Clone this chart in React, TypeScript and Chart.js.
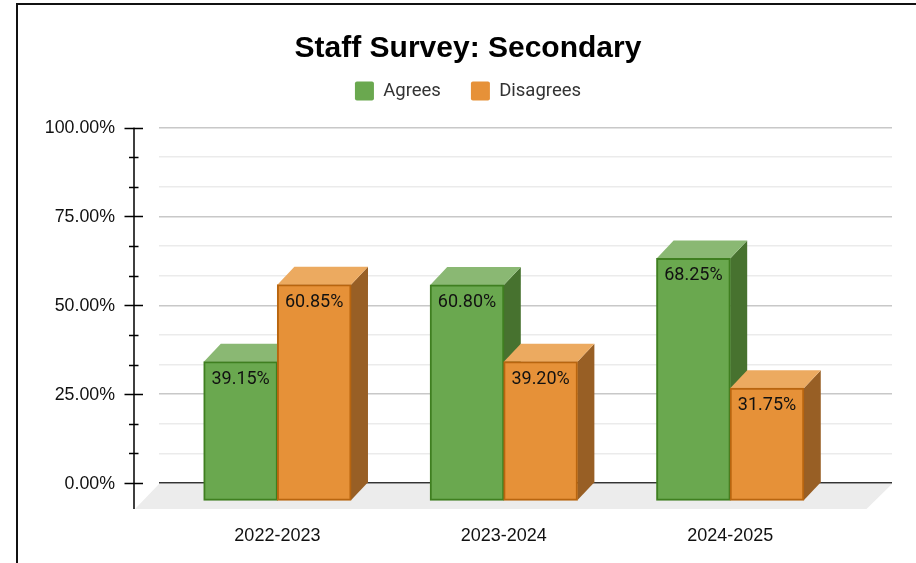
import React, { useEffect, useRef } from "react";
import { Chart, registerables } from "chart.js";

Chart.register(...registerables);

const categories = ["2022-2023", "2023-2024", "2024-2025"];
const agrees = [39.15, 60.8, 68.25];
const disagrees = [60.85, 39.2, 31.75];
const majorTicks = [0, 25, 50, 75, 100];
const minorTicks = [8.33, 16.67, 33.33, 41.67, 58.33, 66.67, 83.33, 91.67];

const DEPTH_X = 17;
const DEPTH_Y = 18;
const faces: Record<number, { side: string; top: string }> = {
  0: { side: "#47722f", top: "#8ab873" },
  1: { side: "#985f25", top: "#ecaa60" },
};

const threeD = {
  id: "threeD",
  beforeLayout(chart: any) {
    const legend = chart.legend;
    if (legend && !legend.__tall) {
      legend.__tall = true;
      const fit = legend.fit;
      legend.fit = function () {
        fit.call(this);
        this.height += 17.1;
      };
    }
  },
  afterLayout(chart: any) {
    const x = chart.scales.x;
    x.left = 164.2;
    x.right = 843.4;
    x.width = 679.2;
    x.configure();
  },
  beforeDatasetsDraw(chart: any) {
    const { ctx, chartArea: a, scales } = chart;
    const y0 = scales.y.getPixelForValue(0);
    ctx.save();
    // floor
    ctx.fillStyle = "#ececec";
    ctx.beginPath();
    ctx.moveTo(a.left, y0 + 1);
    ctx.lineTo(a.right, y0 + 1);
    ctx.lineTo(a.right - 25.5, y0 + 26);
    ctx.lineTo(a.left - 24, y0 + 26);
    ctx.closePath();
    ctx.fill();
    // axis line and its tick marks
    ctx.strokeStyle = "#000";
    ctx.lineWidth = 1.5;
    ctx.beginPath();
    ctx.moveTo(134, scales.y.getPixelForValue(100));
    ctx.lineTo(134, y0 + 26);
    for (const v of majorTicks) {
      const p = Math.round(scales.y.getPixelForValue(v)) + 0.5;
      ctx.moveTo(124.5, p);
      ctx.lineTo(143, p);
    }
    for (const v of minorTicks) {
      const p = Math.round(scales.y.getPixelForValue(v)) + 0.5;
      ctx.moveTo(129, p);
      ctx.lineTo(138.5, p);
    }
    ctx.stroke();
    // bars, in dataset order so the second series sits in front
    chart.data.datasets.forEach((ds: any, i: number) => {
      const meta = chart.getDatasetMeta(i);
      meta.data.forEach((el: any) => {
        const { x, y, width, base } = el.getProps(["x", "y", "width", "base"], true);
        const l = x - width / 2;
        const r = x + width / 2;
        ctx.fillStyle = faces[i].side;
        ctx.beginPath();
        ctx.moveTo(r, y + DEPTH_Y);
        ctx.lineTo(r + DEPTH_X, y);
        ctx.lineTo(r + DEPTH_X, base);
        ctx.lineTo(r, base + DEPTH_Y);
        ctx.closePath();
        ctx.fill();
        ctx.fillStyle = faces[i].top;
        ctx.beginPath();
        ctx.moveTo(l, y + DEPTH_Y);
        ctx.lineTo(l + DEPTH_X, y);
        ctx.lineTo(r + DEPTH_X, y);
        ctx.lineTo(r, y + DEPTH_Y);
        ctx.closePath();
        ctx.fill();
      });
      ctx.save();
      ctx.translate(0, DEPTH_Y);
      meta.controller.draw();
      ctx.restore();
    });
    // value labels
    ctx.fillStyle = "#111";
    ctx.font = '18px Roboto';
    ctx.textAlign = "center";
    ctx.textBaseline = "middle";
    chart.data.datasets.forEach((ds: any, i: number) => {
      chart.getDatasetMeta(i).data.forEach((el: any, j: number) => {
        const { x, y } = el.getProps(["x", "y"], true);
        ctx.fillText(ds.data[j].toFixed(2) + "%", x, y + DEPTH_Y + 17.5);
      });
    });
    ctx.restore();
    return false;
  },
};

export default function App() {
  const ref = useRef<HTMLCanvasElement>(null);
  useEffect(() => {
    const chart = new Chart(ref.current as HTMLCanvasElement, {
      type: "bar",
      data: {
        labels: categories,
        datasets: [
          {
            label: "Agrees",
            data: agrees,
            backgroundColor: "#6aa84f",
            borderColor: "#3f7f20",
            borderWidth: 2,
            borderSkipped: false,
            inflateAmount: 0.5,
            categoryPercentage: 0.65,
            barPercentage: 1,
          },
          {
            label: "Disagrees",
            data: disagrees,
            backgroundColor: "#e69138",
            borderColor: "#b8650f",
            borderWidth: 2,
            borderSkipped: false,
            inflateAmount: 0.5,
            categoryPercentage: 0.65,
            barPercentage: 1,
          },
        ],
      },
      options: {
        responsive: false,
        animation: false,
        layout: { padding: { left: 44, right: 24, top: 0, bottom: 0 } },
        plugins: {
          tooltip: { enabled: false },
          title: {
            display: true,
            text: "Staff Survey: Secondary",
            color: "#000",
            font: { family: '"Liberation Sans"', size: 30, weight: "bold" },
            padding: { top: 31, bottom: -15.5 },
          },
          legend: {
            position: "top",
            labels: {
              boxWidth: 19,
              boxHeight: 19,
              padding: 30,
              useBorderRadius: true,
              borderRadius: 2,
              color: "#333",
              font: { family: "Roboto", size: 18.5 },
              generateLabels: (c: any) =>
                Chart.defaults.plugins.legend.labels.generateLabels(c).map((item: any) => ({ ...item, lineWidth: 0 })),
            },
          },
        },
        scales: {
          x: {
            grid: { display: false },
            border: { display: false },
            afterFit(s: any) {
              s.height = 80;
            },
            ticks: {
              color: "#111",
              padding: 34,
              maxRotation: 0,
              autoSkip: false,
              font: { family: '"Liberation Sans"', size: 18 },
            },
          },
          y: {
            min: 0,
            max: 100,
            border: { display: false },
            afterFit(s: any) {
              s.width = 115;
            },
            afterBuildTicks(s: any) {
              s.ticks = [...majorTicks, ...minorTicks].sort((a, b) => a - b).map((value) => ({ value }));
            },
            grid: {
              drawTicks: false,
              tickLength: 0,
              lineWidth: 1.5,
              color: (c: any) =>
                c.tick.value === 0 ? "#333" : majorTicks.includes(c.tick.value) ? "#c8c8c8" : "#ebebeb",
            },
            ticks: {
              color: "#111",
              padding: 44,
              labelOffset: 1,
              autoSkip: false,
              font: { family: '"Liberation Sans"', size: 17.8 },
              callback: (v: any) => (majorTicks.includes(v) ? Number(v).toFixed(2) + "%" : ""),
            },
          },
        },
      },
      plugins: [threeD],
    } as any);
    return () => chart.destroy();
  }, []);

  return (
    <div style={{ position: "fixed", left: 0, top: 0, width: 916, height: 563, overflow: "hidden", background: "#fff" }}>
      <canvas ref={ref} width={916} height={563} style={{ position: "absolute", left: 0, top: 0 }} />
      <div
        style={{
          position: "absolute",
          left: 16,
          top: 3,
          width: 1000,
          height: 1000,
          border: "2px solid #111",
          pointerEvents: "none",
        }}
      />
    </div>
  );
}
